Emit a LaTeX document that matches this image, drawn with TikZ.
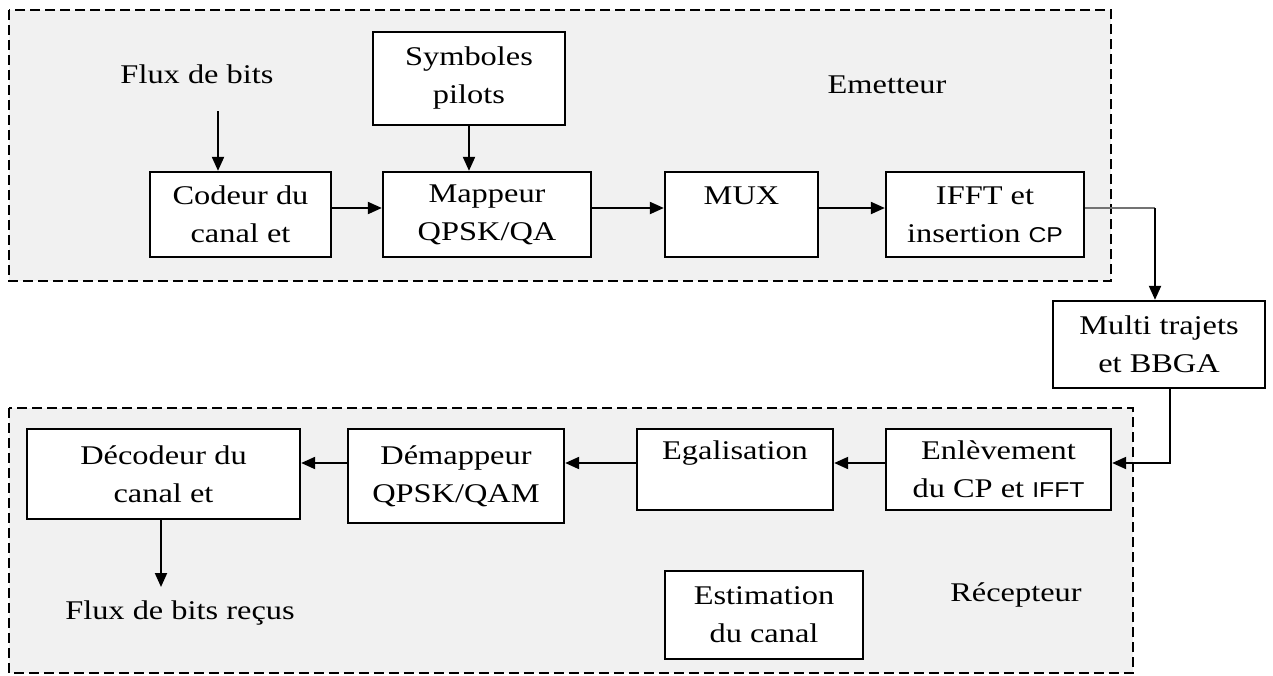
\documentclass[tikz,border=0pt]{standalone}
\usepackage{fontspec}
\setmainfont{Liberation Serif}[FakeStretch=1.2]
\newfontfamily\smallsans{Liberation Sans}[FakeStretch=1.15]
\usetikzlibrary{arrows.meta}
\newcommand{\sans}[1]{{\smallsans\fontsize{21.5}{38}\selectfont #1}}
\definecolor{zonegray}{HTML}{F1F1F1}

\begin{document}
\begin{tikzpicture}[x=1pt,y=-1pt,
  every node/.style={font=\fontsize{27}{38}\selectfont},
  block/.style={draw, line width=2.3pt, fill=white, align=center, inner sep=0pt},
  zone/.style={draw, line width=2pt, dash pattern=on 10pt off 5pt, fill=zonegray},
  link/.style={line width=2pt, -{Triangle[length=14pt,width=12pt]}},
  thinlink/.style={line width=1.8pt, draw=black!55},
  label/.style={inner sep=0pt, align=center}]

\useasboundingbox (0,0) rectangle (1273,675);

% transmitter and receiver zones
\draw[zone] (9,10) rectangle (1111,281);
\draw[zone] (9,408) rectangle (1133,673);

% rows used by the horizontal connectors
\coordinate (toprow) at (0,208);
\coordinate (botrow) at (0,463);

% transmitter chain
\node[label] (flux) at (197,74) {Flux de bits};
\coordinate (fluxin) at (218,111);
\node[block, minimum width=192pt, minimum height=93pt] (pilots) at (469,78.5) {Symboles\\pilots};
\node[block, minimum width=181pt, minimum height=85pt] (codeur) at (240.5,214.5) {Codeur du\\canal et};
\node[block, minimum width=208pt, minimum height=85pt] (mappeur) at (487,214.5) {Mappeur\\QPSK/QA};
\node[block, minimum width=153pt, minimum height=85pt] (mux) at (741.5,214.5) {MUX\\\mbox{}};
\node[block, minimum width=198pt, minimum height=85pt] (ifft) at (985,214.5) {IFFT et\\insertion \sans{CP}};
\node[label] (emetteur) at (887,85) {Emetteur};

% channel
\node[block, minimum width=212pt, minimum height=87pt] (canal) at (1159,344.5) {Multi trajets\\et BBGA};
\coordinate (bend1) at (1155,208);
\coordinate (bend2) at (1170,463);

% receiver chain
\node[block, minimum width=225pt, minimum height=81pt] (enlev) at (998.5,469.5) {Enlèvement\\du CP et \sans{IFFT}};
\node[block, minimum width=196pt, minimum height=81pt] (egal) at (735,469.5) {Egalisation\\\mbox{}};
\node[block, minimum width=216pt, minimum height=94pt] (demap) at (456,476) {Démappeur\\QPSK/QAM};
\node[block, minimum width=273pt, minimum height=90pt] (decod) at (163.5,474) {Décodeur du\\canal et};
\node[block, minimum width=198pt, minimum height=88pt] (estim) at (764,615) {Estimation\\du canal};
\node[label] (recepteur) at (1016,595) {Récepteur};
\coordinate (fluxout) at (161,587);
\node[label] (recus) at (180,613) {Flux de bits reçus};

% connectors
\draw[link] (fluxin) -- (fluxin |- codeur.north);
\draw[link] (pilots.south) -- (pilots.south |- mappeur.north);
\draw[link] (codeur.east |- toprow) -- (mappeur.west |- toprow);
\draw[link] (mappeur.east |- toprow) -- (mux.west |- toprow);
\draw[link] (mux.east |- toprow) -- (ifft.west |- toprow);
\draw[thinlink] (ifft.east |- toprow) -- (bend1);
\draw[link] (bend1) -- (bend1 |- canal.north);
\draw[link] (bend2 |- canal.south) -- (bend2) -- (enlev.east |- botrow);
\draw[link] (enlev.west |- botrow) -- (egal.east |- botrow);
\draw[link] (egal.west |- botrow) -- (demap.east |- botrow);
\draw[link] (demap.west |- botrow) -- (decod.east |- botrow);
\draw[link] (fluxout |- decod.south) -- (fluxout);
\end{tikzpicture}
\end{document}
